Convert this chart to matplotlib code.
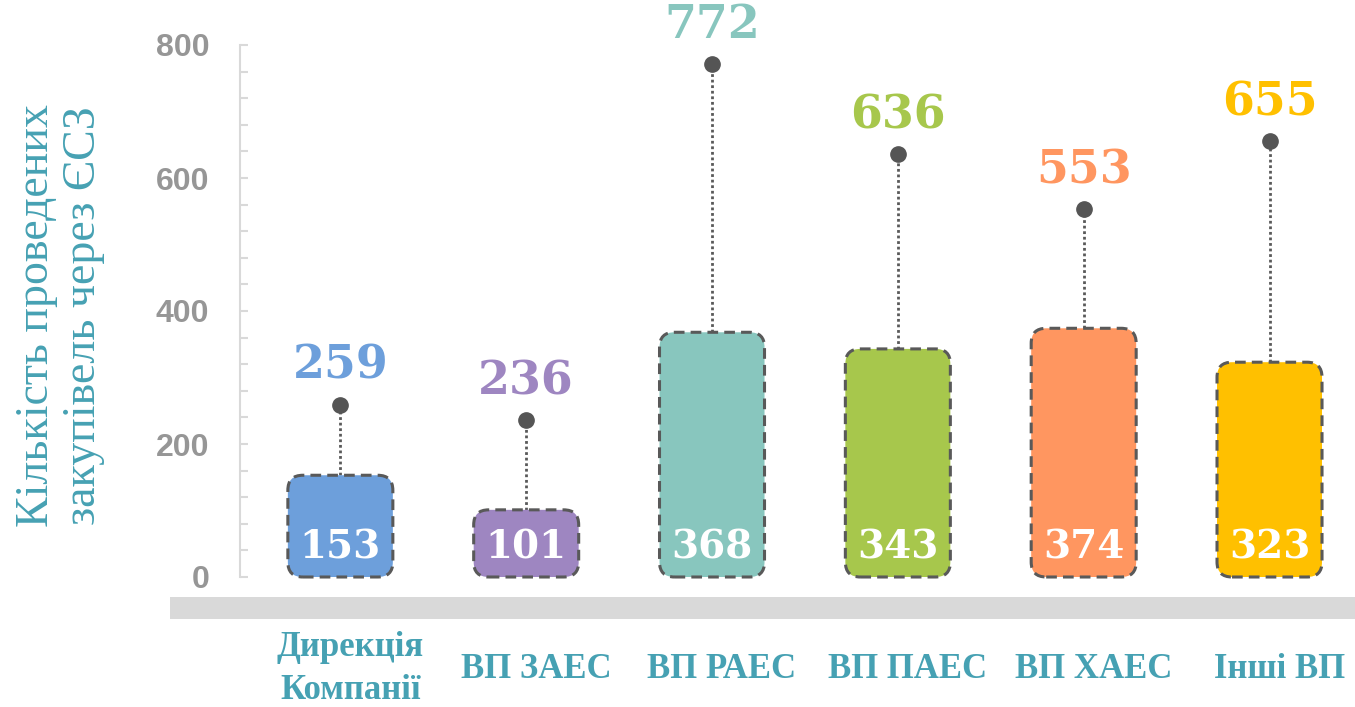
import matplotlib
matplotlib.use("Agg")
import matplotlib.pyplot as plt
from matplotlib.patches import FancyBboxPatch, Rectangle
from matplotlib.transforms import blended_transform_factory, ScaledTranslation
import numpy as np

categories = ["Дирекція\nКомпанії", "ВП ЗАЕС", "ВП РАЕС", "ВП ПАЕС", "ВП ХАЕС", "Інші ВП"]
bar_values = [153, 101, 368, 343, 374, 323]
top_values = [259, 236, 772, 636, 553, 655]
colors = ["#6D9FDB", "#9E86C1", "#88C6BE", "#A7C74C", "#FF9660", "#FFC000"]
y_ticks = [0, 200, 400, 600, 800]
y_title = "Кількість проведених\nзакупівель через ЄСЗ"

W, H = 1355, 707
fig = plt.figure(figsize=(W / 100, H / 100), dpi=100)
ax_l, ax_b, ax_w, ax_h = 240, 130, 1115, 532
ax = fig.add_axes([ax_l / W, ax_b / H, ax_w / W, ax_h / H])
xmin, xmax = -0.54, 5.46
ymin, ymax = 0, 800
ax.set_xlim(xmin, xmax)
ax.set_ylim(ymin, ymax)

for s in ["top", "right", "bottom"]:
    ax.spines[s].set_visible(False)
ax.spines["left"].set_color("#D9D9D9")
ax.spines["left"].set_linewidth(1.5)
ax.set_xticks([])
ax.set_yticks(y_ticks)
ax.set_yticks(np.arange(0, 801, 40), minor=True)
ax.tick_params(axis="y", which="both", direction="in", length=6, width=1.5,
               color="#D9D9D9", labelsize=23, labelcolor="#969696", pad=22)
for lab in ax.get_yticklabels():
    lab.set_fontweight("bold")
    lab.set_family("Liberation Sans")

# floor band
fig.patches.append(Rectangle((170 / W, 1 - 619 / H), (W - 170) / W, 22 / H,
                             transform=fig.transFigure, facecolor="#D9D9D9",
                             edgecolor="none", zorder=0))

px_x = ax_w / (xmax - xmin)
px_y = ax_h / (ymax - ymin)
asp = px_x / px_y
bw = 105 / px_x
r = 15 / px_x

x = np.arange(len(categories))
for i, (v, t, c) in enumerate(zip(bar_values, top_values, colors)):
    box = FancyBboxPatch((x[i] - bw / 2, 0), bw, v,
                         boxstyle=f"round,pad=0,rounding_size={r}",
                         mutation_aspect=asp, facecolor=c, edgecolor="#595959",
                         linewidth=2.2, linestyle=(0, (3.5, 2)), zorder=3,
                         clip_on=False)
    ax.add_patch(box)
    ax.plot([x[i], x[i]], [v, t], color="#595959", lw=2.0,
            linestyle=(0, (1, 1)), zorder=2, clip_on=False)
    ax.plot([x[i]], [t], marker="o", ms=11, color="#555555", zorder=4,
            clip_on=False)
    ax.annotate(str(t), (x[i], t), xytext=(0, 28), textcoords="offset points",
                ha="center", va="center", fontsize=33, fontweight="heavy",
                family="DejaVu Serif", color=c, zorder=5)
    ax.text(x[i], 44, str(v), ha="center", va="center", fontsize=28,
            fontweight="heavy", family="DejaVu Serif", color="white", zorder=5)

trans = blended_transform_factory(ax.transData, fig.transFigure) + \
    ScaledTranslation(10 / 100, 0, fig.dpi_scale_trans)
for i, cat in enumerate(categories):
    ax.text(x[i], 1 - 669 / H, cat, transform=trans, ha="center", va="center",
            fontsize=25, fontweight="bold", family="Liberation Serif",
            color="#46A1B3", linespacing=1.4)

fig.text(60 / W, 1 - 316 / H, y_title, rotation=90, ha="center", va="center",
         fontsize=33, family="Liberation Serif", color="#46A1B3",
         linespacing=1.15)

fig.savefig("out.png", dpi=100)
